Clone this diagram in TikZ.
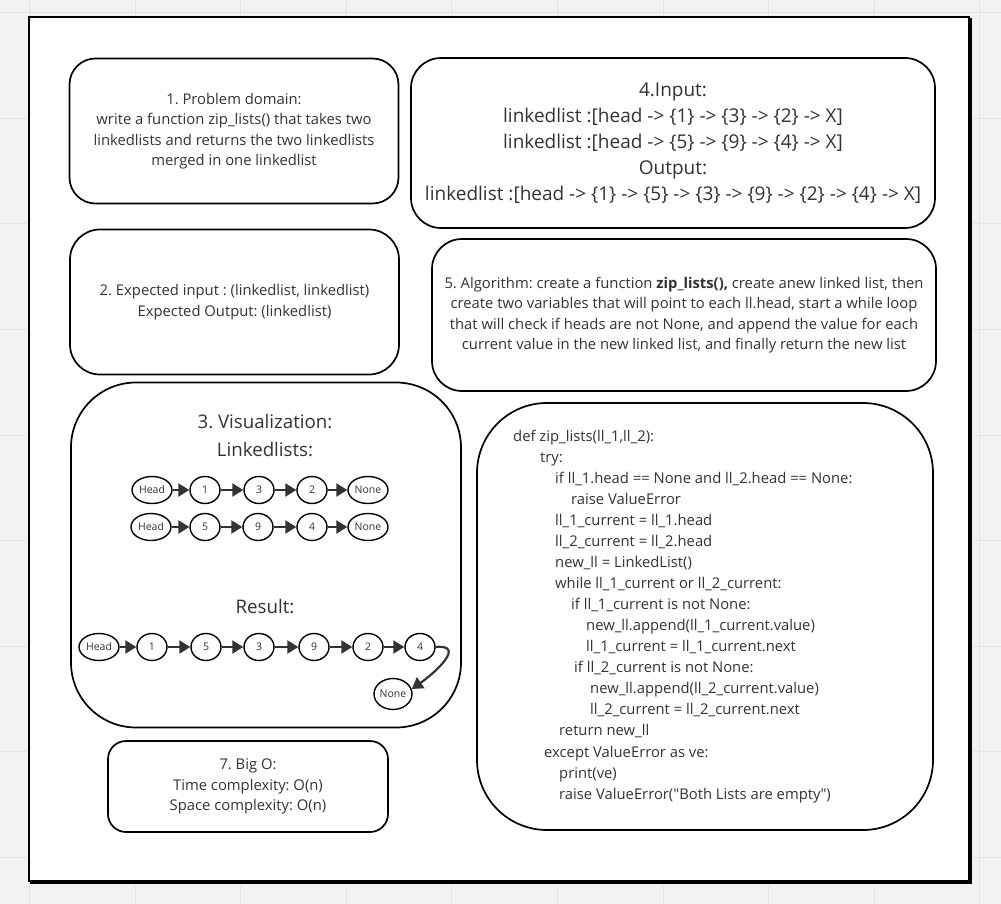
\documentclass[tikz,border=0pt]{standalone}
\usepackage{xcolor}
\usepackage{fontspec}
\setmainfont{Open Sans}
\usepackage{tikz}
\usetikzlibrary{arrows.meta}
\usetikzlibrary{positioning}
\usetikzlibrary{shapes.geometric}
\definecolor{txt}{HTML}{333333}
\definecolor{canvas}{HTML}{F2F2F2}
\definecolor{gridln}{HTML}{E4E4E4}
\definecolor{shade}{HTML}{6A6A6A}
\frenchspacing
\tikzset{>=latex}
\tikzstyle{card} = [draw=black, line width=1.7pt, fill=white, text=txt, align=center, inner sep=0]
\tikzstyle{item} = [ellipse, draw=black, line width=1.4pt, fill=white, text=txt, inner sep=0, minimum width=30pt, minimum height=27pt, font=\fontsize{10.5}{11}\selectfont]
\tikzstyle{endp} = [item, minimum width=40pt]
\tikzstyle{ptr} = [-{Triangle[length=11pt, width=13pt]}, draw=txt, line width=2.2pt]
\tikzstyle{small} = [font=\fontsize{14.8}{20.5}\selectfont]
\tikzstyle{large} = [font=\fontsize{19}{26}\selectfont]

\begin{document}
\begin{tikzpicture}[x=1pt, y=-1pt]
% canvas and grid
\fill [canvas] (0,0) rectangle (1001,904);
\useasboundingbox (0,0) rectangle (1001,904);
\foreach \gx in {0,...,9} \draw [gridln, line width=1pt] ({29.4+105.6*\gx},0) -- ({29.4+105.6*\gx},904);
\foreach \gy in {0,...,8} \draw [gridln, line width=1pt] (0,{12.7+105.6*\gy}) -- (1001,{12.7+105.6*\gy});
% frame
\draw [shade, line width=1.5pt] (31,19) rectangle (971,883);
\draw [black, line width=2pt, fill=white] (29,17) rectangle (969,881);

% text cards
\node [card, small, rounded corners=26pt, minimum width=329pt, minimum height=145pt] (domain) at (234,131) {1. Problem domain:\\write a function zip\_lists() that takes two\\linkedlists and returns the two linkedlists\\merged in one linkedlist};
\node [card, large, rounded corners=30pt, minimum width=524pt, minimum height=170pt] (io) at (673,143) {4.Input:\\linkedlist :[head -> \{1\} -> \{3\} -> \{2\} -> X]\\linkedlist :[head -> \{5\} -> \{9\} -> \{4\} -> X]\\Output:\\linkedlist :[head -> \{1\} -> \{5\} -> \{3\} -> \{9\} -> \{2\} -> \{4\} -> X]};
\node [card, small, rounded corners=30pt, minimum width=329pt, minimum height=145pt] (expect) at (234.5,302) {2. Expected input : (linkedlist, linkedlist)\\Expected Output: (linkedlist)};
\node [card, small, rounded corners=30pt, minimum width=504pt, minimum height=152pt] (algo) at (684,315) {5. Algorithm: create a function \textbf{zip\_lists(),} create anew linked list, then\\create two variables that will point to each ll.head, start a while loop\\that will check if heads are not None, and append the value for each\\current value in the new linked list, and finally return the new list};
\node [card, rounded corners=65pt, minimum width=390pt, minimum height=345pt] (visual) at (266,555) {};
\node [card, rounded corners=70pt, minimum width=456pt, minimum height=427pt] (code) at (705,616.5) {};
\node [card, small, rounded corners=18pt, minimum width=280pt, minimum height=91pt] (bigo) at (248,786.5) {7. Big O:\\Time complexity: O(n)\\Space complexity: O(n)};

% visualization
\node [text=txt, font=\fontsize{18.7}{28}\selectfont, align=center] (vtitle) at (265,436) {3. Visualization:\\Linkedlists:};
\node [text=txt, font=\fontsize{18.7}{28}\selectfont] (rtitle) at (265,607) {Result:};

\node [endp] (h1) at (152,490) {Head};
\node [item] (a1) at (205,490) {1};
\node [item] (a2) at (259,490) {3};
\node [item] (a3) at (312,490) {2};
\node [endp] (z1) at (368,490) {None};

\node [endp] (h2) at (151,527) {Head};
\node [item] (b1) at (205,527) {5};
\node [item] (b2) at (258,527) {9};
\node [item] (b3) at (312,527) {4};
\node [endp] (z2) at (368,527) {None};

\node [endp] (h3) at (99,647) {Head};
\node [item] (r1) at (152,647) {1};
\node [item] (r2) at (206,647) {5};
\node [item] (r3) at (259,647) {3};
\node [item] (r4) at (314,647) {9};
\node [item] (r5) at (368,647) {2};
\node [item] (r6) at (420,647) {4};
\node [endp, minimum width=38pt, minimum height=31pt] (z3) at (393,694) {None};

\foreach \s/\t in {h1/a1, a1/a2, a2/a3, a3/z1, h2/b1, b1/b2, b2/b3, b3/z2, h3/r1, r1/r2, r2/r3, r3/r4, r4/r5, r5/r6}
  \draw [ptr] (\s) -- (\t);
\draw [ptr] (r6.east) to [out=5, in=35, looseness=1.6] (z3.15);

% code listing
\foreach \cx/\cy/\line [count=\i] in {
  513/439/{def zip\_lists(ll\_1,ll\_2):},
  540/460/{try:},
  555/481/{if ll\_1.head == None and ll\_2.head == None:},
  571/502/{raise ValueError},
  555/523/{ll\_1\_current = ll\_1.head},
  555/544/{ll\_2\_current = ll\_2.head},
  555/565/{new\_ll = LinkedList()},
  555/586/{while ll\_1\_current or ll\_2\_current:},
  571/607/{if ll\_1\_current is not None:},
  586/628/{new\_ll.append(ll\_1\_current.value)},
  586/649/{ll\_1\_current = ll\_1\_current.next},
  574/670/{if ll\_2\_current is not None:},
  590/691/{new\_ll.append(ll\_2\_current.value)},
  590/712/{ll\_2\_current = ll\_2\_current.next},
  559/733/{return new\_ll},
  544/755/{except ValueError as ve:},
  559/776/{print(ve)},
  559/797/{raise ValueError(\textquotedbl Both Lists are empty\textquotedbl)}}
  \node [small, text=txt, anchor=mid west, inner sep=0] (line\i) at (\cx,\cy) {\line};
\end{tikzpicture}
\end{document}
